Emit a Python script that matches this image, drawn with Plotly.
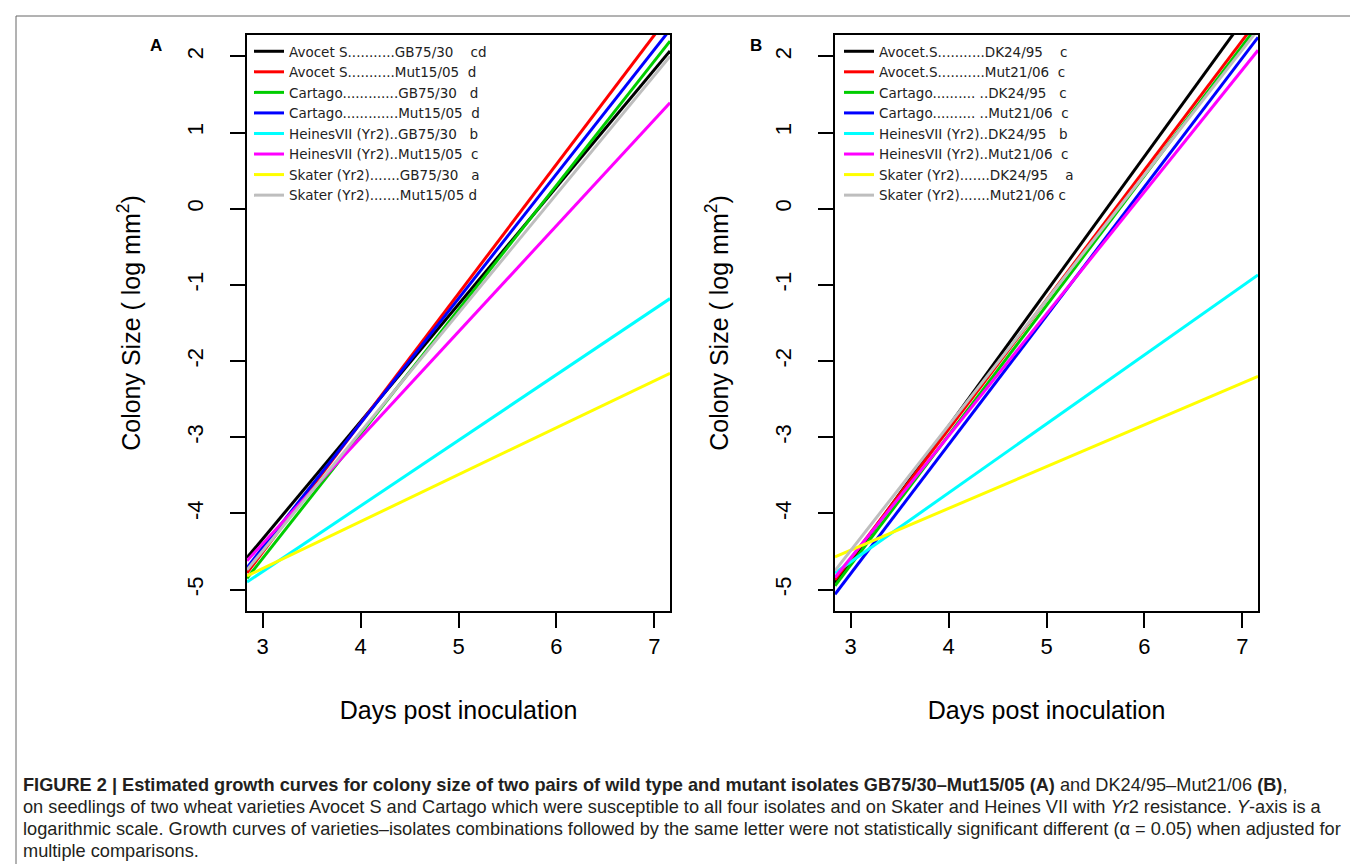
import plotly.graph_objects as go

W, H = 1358, 864

# ---------------- data ----------------
days_span = [2.84, 7.16]          # fitted growth lines drawn across the plotting window
x_ticks = [3, 4, 5, 6, 7]
x_ticklabels = ["3", "4", "5", "6", "7"]
y_ticks = [-5, -4, -3, -2, -1, 0, 1, 2]
y_ticklabels = ["-5", "-4", "-3", "-2", "-1", "0", "1", "2"]

colors = ["#000000", "#FF0000", "#00CD00", "#0000FF", "#00FFFF", "#FF00FF", "#FFFF00", "#BEBEBE"]

NB = "\u00a0"
names_A = [
    "Avocet S..........." + "GB75/30" + NB * 4 + "cd",
    "Avocet S..........." + "Mut15/05" + NB * 2 + "d",
    "Cartago............." + "GB75/30" + NB * 3 + "d",
    "Cartago............." + "Mut15/05" + NB * 2 + "d",
    "HeinesVII (Yr2).." + "GB75/30" + NB * 3 + "b",
    "HeinesVII (Yr2).." + "Mut15/05" + NB * 2 + "c",
    "Skater (Yr2)......." + "GB75/30" + NB * 3 + "a",
    "Skater (Yr2)......." + "Mut15/05" + NB * 1 + "d",
]
start_A = [-4.58, -4.78, -4.85, -4.71, -4.90, -4.62, -4.82, -4.74]
end_A = [2.07, 2.55, 2.20, 2.35, -1.18, 1.39, -2.16, 2.00]

names_B = [
    "Avocet.S..........." + "DK24/95" + NB * 4 + "c",
    "Avocet.S..........." + "Mut21/06" + NB * 2 + "c",
    "Cartago.......... .." + "DK24/95" + NB * 3 + "c",
    "Cartago.......... .." + "Mut21/06" + NB * 2 + "c",
    "HeinesVII (Yr2).." + "DK24/95" + NB * 3 + "b",
    "HeinesVII (Yr2).." + "Mut21/06" + NB * 2 + "c",
    "Skater (Yr2)......." + "DK24/95" + NB * 4 + "a",
    "Skater (Yr2)......." + "Mut21/06" + NB * 1 + "c",
]
start_B = [-4.91, -4.87, -4.95, -5.06, -4.78, -4.84, -4.57, -4.75]
end_B = [2.74, 2.48, 2.41, 2.25, -0.87, 2.08, -2.20, 2.35]

caption_lines = [
    "<b>FIGURE 2 | Estimated growth curves for colony size of two pairs of wild type and mutant isolates GB75/30\u2013Mut15/05 (A)</b> and DK24/95\u2013Mut21/06 <b>(B)</b>,",
    "on seedlings of two wheat varieties Avocet S and Cartago which were susceptible to all four isolates and on Skater and Heines VII with <i>Yr</i>2 resistance. <i>Y</i>-axis is a",
    "logarithmic scale. Growth curves of varieties\u2013isolates combinations followed by the same letter were not statistically significant different (\u03b1 = 0.05) when adjusted for",
    "multiple comparisons.",
]

# ---------------- figure ----------------
FONT = "Liberation Sans, Arial, sans-serif"
LEGFONT = "DejaVu Sans, Liberation Sans, sans-serif"
fig = go.Figure()

for name, c, s, e in zip(names_A, colors, start_A, end_A):
    fig.add_trace(go.Scatter(x=days_span, y=[s, e], mode="lines", name=name,
                             line=dict(color=c, width=3), xaxis="x", yaxis="y", legend="legend"))
for name, c, s, e in zip(names_B, colors, start_B, end_B):
    fig.add_trace(go.Scatter(x=days_span, y=[s, e], mode="lines", name=name,
                             line=dict(color=c, width=3), xaxis="x2", yaxis="y2", legend="legend2"))

def px(x):
    return x / W

def py(y):
    return 1 - y / H

x_common = dict(range=[2.84, 7.16], tickvals=x_ticks, ticktext=x_ticklabels,
                ticks="outside", ticklen=15, tickwidth=1.5, tickcolor="black",
                showline=True, linecolor="black", linewidth=1.5, mirror=True,
                showgrid=False, zeroline=False,
                tickfont=dict(family=FONT, size=22, color="black"),
                title=dict(text="Days post inoculation", font=dict(family=FONT, size=25, color="black"), standoff=43))
y_common = dict(range=[-5.28, 2.28], tickvals=y_ticks, ticktext=y_ticklabels, tickangle=-90,
                ticks="outside", ticklen=15, tickwidth=1.5, tickcolor="black",
                showline=True, linecolor="black", linewidth=1.5, mirror=True,
                showgrid=False, zeroline=False, ticklabelstandoff=18,
                tickfont=dict(family=FONT, size=22, color="black"),
                title=dict(text="Colony Size ( log mm<sup>2</sup>)", font=dict(family=FONT, size=25, color="black"), standoff=36))

legend_common = dict(font=dict(family=LEGFONT, size=13.5, color="#222222"), bgcolor="rgba(0,0,0,0)",
                     borderwidth=0, xanchor="left", yanchor="top", tracegroupgap=0)

fig.update_layout(
    width=W, height=H,
    margin=dict(l=0, r=0, t=0, b=0),
    paper_bgcolor="white", plot_bgcolor="white",
    xaxis=dict(domain=[px(239), px(662)], anchor="y", **x_common),
    yaxis=dict(domain=[py(603), py(27)], anchor="x", **y_common),
    xaxis2=dict(domain=[px(827), px(1250)], anchor="y2", **x_common),
    yaxis2=dict(domain=[py(603), py(27)], anchor="x2", **y_common),
    legend=dict(x=px(241), y=py(28), **legend_common),
    legend2=dict(x=px(831), y=py(28), **legend_common),
    showlegend=True,
)

# panel letters
fig.add_annotation(x=px(148), y=py(37), xref="paper", yref="paper", text="<b>A</b>", showarrow=False,
                   xanchor="center", yanchor="middle", font=dict(family=FONT, size=17, color="black"))
fig.add_annotation(x=px(748), y=py(37), xref="paper", yref="paper", text="<b>B</b>", showarrow=False,
                   xanchor="center", yanchor="middle", font=dict(family=FONT, size=17, color="black"))

# caption
for i, t in enumerate(caption_lines):
    fig.add_annotation(x=px(13), y=py(777 + 22 * i), xref="paper", yref="paper", text=t, showarrow=False,
                       xanchor="left", yanchor="middle", align="left",
                       font=dict(family=FONT, size=18.2, color="#231F20"))

# outer frame
fig.add_shape(type="rect", xref="paper", yref="paper", x0=px(8), x1=px(1355), y0=-0.01, y1=py(8),
              line=dict(color="#666666", width=1), fillcolor="rgba(0,0,0,0)", layer="below")

fig.write_html("out.html")
